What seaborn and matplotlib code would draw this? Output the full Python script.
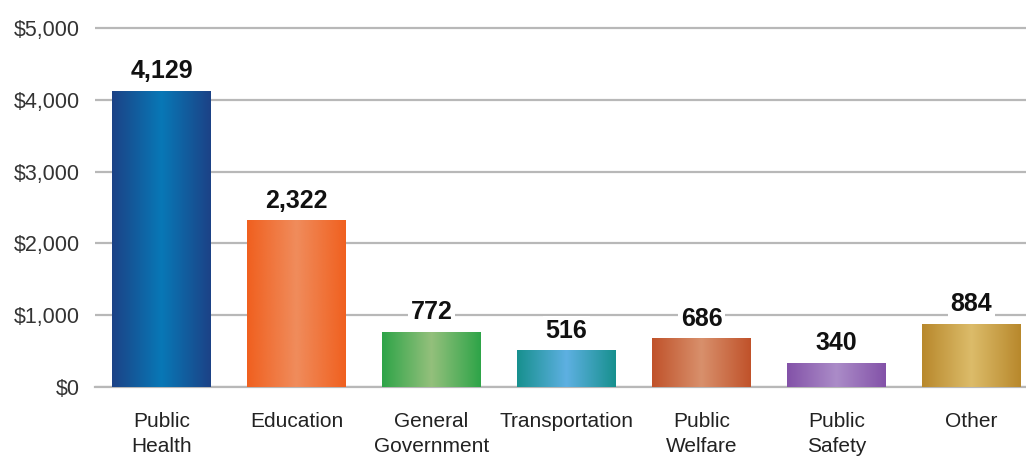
import numpy as np
import pandas as pd
import matplotlib.pyplot as plt
import matplotlib.colors as mcolors
import seaborn as sns

categories = ['Public\nHealth', 'Education', 'General\nGovernment', 'Transportation',
              'Public\nWelfare', 'Public\nSafety', 'Other']
values = [4129, 2322, 772, 516, 686, 340, 884]
edge_colors = ['#1c4286', '#f0601f', '#2ea448', '#17908e', '#c0522a', '#8352a8', '#b8882c']
center_colors = ['#0878b6', '#f08c5c', '#94c07c', '#5eb0e2', '#d8906c', '#ab8cc8', '#dcbc6a']
yticks = [0, 1000, 2000, 3000, 4000, 5000]

df = pd.DataFrame({'category': categories, 'value': values})

sns.set_style('white')
plt.rcParams['font.family'] = ['Liberation Sans', 'DejaVu Sans']

fig = plt.figure(figsize=(10.26, 4.59), dpi=100)
# axes placed in pixels: left 95, right 1026, bottom y=387, top y=20
ax = fig.add_axes([95 / 1026, (459 - 387) / 459, (1026 - 95) / 1026, (387 - 20) / 459])

sns.barplot(data=df, x='category', y='value', ax=ax, width=0.73,
            color='white', saturation=1, zorder=3)

# horizontal gradient fill: dark edges, light centre
for patch, c0, c1, v in zip(ax.patches, edge_colors, center_colors, values):
    x0, w = patch.get_x(), patch.get_width()
    cmap = mcolors.LinearSegmentedColormap.from_list('g', [c0, c1, c0])
    grad = np.linspace(0, 1, 256).reshape(1, -1)
    im = ax.imshow(grad, cmap=cmap, aspect='auto', extent=[x0, x0 + w, 0, v],
                   zorder=3, interpolation='bicubic')
    im.set_clip_path(patch)
    patch.set_facecolor('none')
    patch.set_edgecolor('none')
    ax.text(x0 + w / 2, v + 100, f'{v:,}', ha='center', va='bottom',
            fontsize=18, fontweight='bold', color='#111111', zorder=4,
            bbox=dict(facecolor='white', edgecolor='none', pad=2))

ax.set_xlim(-0.4926, 6.4037)
ax.set_ylim(0, 5000 + 8 / 71.8 * 1000)

ax.set_yticks(yticks)
ax.set_yticklabels([f'${t:,}' for t in yticks], fontsize=15.5, color='#333333')
ax.grid(axis='y', color='#b8b8b8', linewidth=1.6, zorder=0)
ax.set_axisbelow(True)
ax.tick_params(axis='y', length=0, pad=11)
ax.tick_params(axis='x', length=0, pad=18, labelsize=15, labelcolor='#222222')
for lbl in ax.get_xticklabels():
    lbl.set_linespacing(1.4)
    lbl.set_va('top')

for s in ['top', 'right', 'left']:
    ax.spines[s].set_visible(False)
ax.spines['bottom'].set_color('#b8b8b8')
ax.spines['bottom'].set_linewidth(1.6)

ax.set_xlabel('')
ax.set_ylabel('')

fig.savefig('out.png', dpi=100)
